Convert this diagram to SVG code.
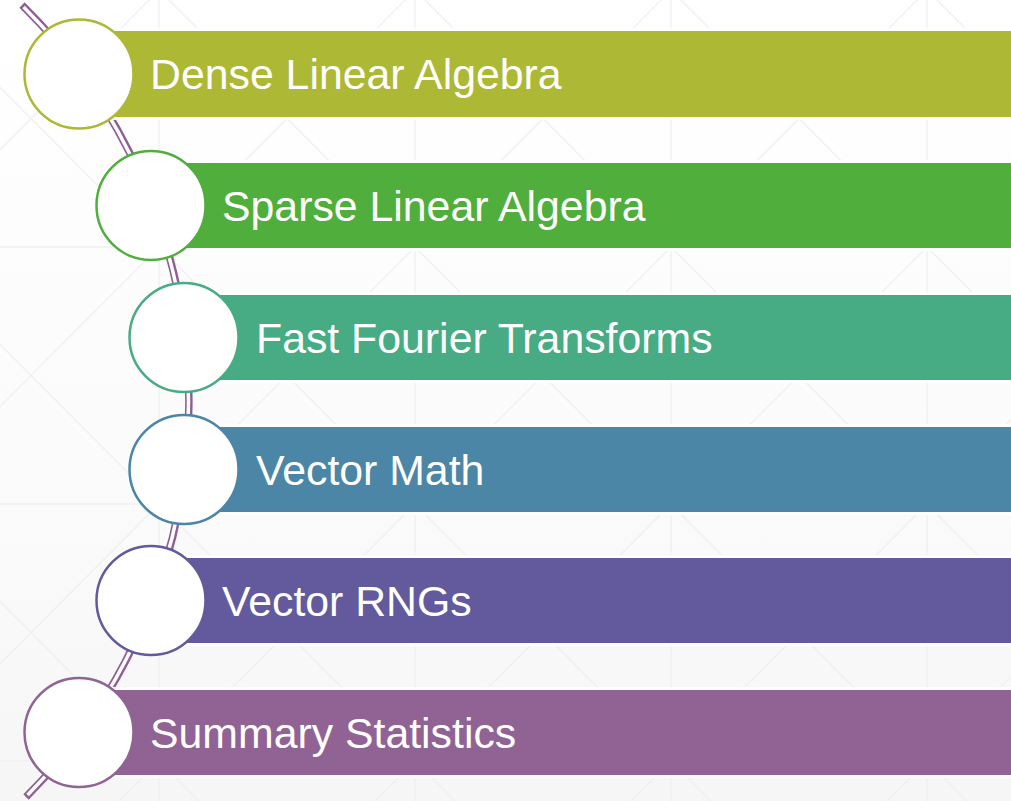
<svg xmlns="http://www.w3.org/2000/svg" width="1011" height="801" viewBox="0 0 1011 801">
  <defs>
    <linearGradient id="bg" x1="0" y1="0" x2="0" y2="1">
      <stop offset="0" stop-color="#ffffff"/>
      <stop offset="0.6" stop-color="#fbfbfb"/>
      <stop offset="1" stop-color="#f6f6f6"/>
    </linearGradient>
    <pattern id="lattice" patternUnits="userSpaceOnUse" x="159" y="-10" width="256" height="257">
      <g stroke="#f0f0f0" stroke-width="1.3" fill="none">
        <line x1="0" y1="0" x2="0" y2="257"/>
        <line x1="256" y1="0" x2="256" y2="257"/>
        <line x1="0" y1="0" x2="256" y2="0"/>
        <line x1="0" y1="257" x2="256" y2="257"/>
        <line x1="0" y1="0" x2="256" y2="257"/>
        <line x1="256" y1="0" x2="0" y2="257"/>
      </g>
    </pattern>
    <style>
      .gap { fill: #ffffff; opacity: 0.9; }
      .node circle { fill: #ffffff; stroke-width: 2.5; }
      .lbl { font-family: "Liberation Sans", Arial, sans-serif; font-size: 42.8px; fill: #ffffff; }
    </style>
  </defs>

  <rect x="0" y="0" width="1011" height="801" fill="url(#bg)"/>
  <rect x="0" y="0" width="1011" height="801" fill="url(#lattice)"/>

  <g id="connectors">
    <path d="M22,5 A558,558 0 0 1 26,797" fill="none" stroke="#8e5e94" stroke-width="7.5"/>
    <path d="M23.6,7 A558,558 0 0 1 27.6,795" fill="none" stroke="#ffffff" stroke-width="3.5"/>
  </g>

  <g id="node1" class="node">
    <rect class="gap" x="76" y="28" width="940" height="92"/>
    <rect x="79" y="31" width="935" height="86" fill="#adb835"/>
    <circle cx="79" cy="74" r="54.5" stroke="#adb835"/>
    <text class="lbl" x="150" y="89">Dense Linear Algebra</text>
  </g>
  <g id="node2" class="node">
    <rect class="gap" x="148" y="160" width="870" height="91"/>
    <rect x="151" y="163" width="865" height="85" fill="#50af3c"/>
    <circle cx="151" cy="205.5" r="54.5" stroke="#50af3c"/>
    <text class="lbl" x="222" y="220.5">Sparse Linear Algebra</text>
  </g>
  <g id="node3" class="node">
    <rect class="gap" x="181" y="292" width="835" height="91"/>
    <rect x="184" y="295" width="830" height="85" fill="#47ac84"/>
    <circle cx="184" cy="337.5" r="54.5" stroke="#47ac84"/>
    <text class="lbl" x="256" y="352.5">Fast Fourier Transforms</text>
  </g>
  <g id="node4" class="node">
    <rect class="gap" x="181" y="424" width="835" height="91"/>
    <rect x="184" y="427" width="830" height="85" fill="#4b86a6"/>
    <circle cx="184" cy="469.5" r="54.5" stroke="#4b86a6"/>
    <text class="lbl" x="256" y="484.5">Vector Math</text>
  </g>
  <g id="node5" class="node">
    <rect class="gap" x="148" y="555" width="870" height="91"/>
    <rect x="151" y="558" width="865" height="85" fill="#63599d"/>
    <circle cx="151" cy="600.5" r="54.5" stroke="#63599d"/>
    <text class="lbl" x="222" y="615.5">Vector RNGs</text>
  </g>
  <g id="node6" class="node">
    <rect class="gap" x="76" y="687" width="940" height="91"/>
    <rect x="79" y="690" width="935" height="85" fill="#916395"/>
    <circle cx="79" cy="732.5" r="54.5" stroke="#916395"/>
    <text class="lbl" x="150" y="747.5">Summary Statistics</text>
  </g>
</svg>
